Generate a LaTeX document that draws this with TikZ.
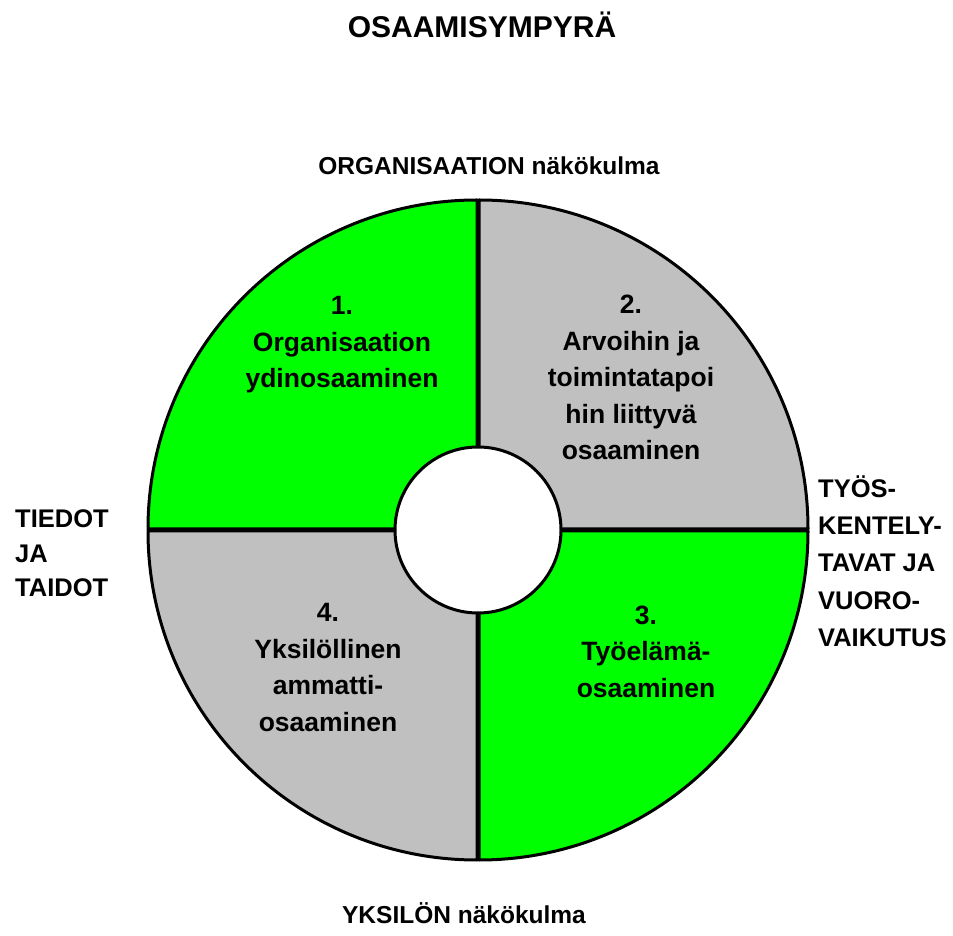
\documentclass[tikz,border=0pt]{standalone}
\usepackage{fontspec}
\setmainfont{Liberation Sans}
\usepackage{tikz}

\definecolor{vihrea}{RGB}{0,255,0}
\definecolor{harmaa}{RGB}{192,192,192}

\begin{document}
\begin{tikzpicture}[x=1pt,y=1pt,
  lohko/.style={draw=black, line width=3pt, line join=round},
  lohkoteksti/.style={font=\fontsize{26.5}{36.5}\selectfont\bfseries, align=center, inner sep=0pt},
  reunateksti/.style={font=\fontsize{25.5}{34.5}\selectfont\bfseries, align=left, anchor=west, inner sep=0pt},
  nakokulma/.style={font=\fontsize{24.5}{30}\selectfont\bfseries, anchor=base, inner sep=0pt}]
\useasboundingbox (0,0) rectangle (953,935);

\draw[lohko, fill=vihrea] (477,406) -- ++(0,329) arc[start angle=90, end angle=180, radius=329] -- cycle;
\draw[lohko, fill=harmaa] (479,406) -- ++(329,0) arc[start angle=0, end angle=90, radius=329] -- cycle;
\draw[lohko, fill=harmaa] (477,404) -- ++(-329,0) arc[start angle=180, end angle=270, radius=329] -- cycle;
\draw[lohko, fill=vihrea] (479,404) -- ++(0,-329) arc[start angle=270, end angle=360, radius=329] -- cycle;
\node[lohko, circle, fill=white, minimum size=166pt, inner sep=0pt] (ydin) at (478,405) {};

\node[font=\fontsize{30}{36}\selectfont\bfseries, anchor=base, inner sep=0pt] (otsikko) at (482,897) {OSAAMISYMPYRÄ};
\node[nakokulma] (organisaatio) at (489,760) {ORGANISAATION näkökulma};
\node[nakokulma] (yksilo) at (464,12) {YKSILÖN näkökulma};

\node[lohkoteksti] (osa1) at (342,590) {1.\\Organisaation\\ydinosaaminen};
\node[lohkoteksti] (osa2) at (631,557.5) {2.\\Arvoihin ja\\toimintatapoi\\hin liittyvä\\osaaminen};
\node[lohkoteksti] (osa3) at (646,283.5) {3.\\Työelämä-\\osaaminen};
\node[lohkoteksti] (osa4) at (328,267.5) {4.\\Yksilöllinen\\ammatti-\\osaaminen};

\node[reunateksti] (tiedot) at (15,381.5) {TIEDOT\\JA\\TAIDOT};
\node[reunateksti, font=\fontsize{25.5}{37.25}\selectfont\bfseries] (tyotavat) at (818,374) {TYÖS-\\KENTELY-\\TAVAT JA\\VUORO-\\VAIKUTUS};
\end{tikzpicture}
\end{document}
